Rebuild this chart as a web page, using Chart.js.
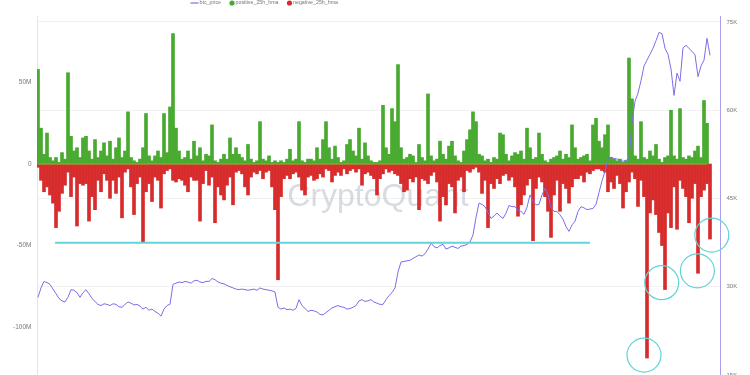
<!DOCTYPE html>
<html>
<head>
<meta charset="utf-8">
<title>btc_price vs 25h hma</title>
<script src="https://cdn.jsdelivr.net/npm/chart.js@4.4.1/dist/chart.umd.min.js"></script>
<style>
  html, body { margin: 0; padding: 0; background: #fff; overflow: hidden; }
  #chart { display: block; }
</style>
</head>
<body>
<canvas id="chart" width="750" height="375"></canvas>
<script>
// one value per step
// positive / negative 25h hma in millions, btc price in thousands
const positive = [
  58, 22, 6, 19, 4, 2, 4, 1, 7, 3, 56, 17, 8, 10, 4, 16, 17, 8, 3, 15,
  4, 8, 13, 5, 14, 3, 10, 16, 4, 8, 32, 4, 2, 1, 3, 10, 31, 5, 2, 5,
  8, 4, 31, 7, 35, 80, 22, 8, 3, 4, 8, 3, 14, 5, 10, 2, 6, 5, 24, 2,
  1, 3, 6, 3, 16, 6, 10, 6, 4, 2, 12, 3, 1, 2, 26, 3, 2, 5, 1, 2,
  1, 2, 1, 3, 9, 2, 3, 26, 2, 1, 3, 3, 2, 10, 3, 15, 26, 10, 3, 11,
  4, 1, 2, 12, 15, 8, 5, 22, 3, 13, 5, 2, 1, 1, 2, 36, 10, 6, 34, 26,
  61, 10, 3, 4, 6, 5, 1, 12, 4, 2, 43, 5, 2, 3, 14, 6, 3, 11, 14, 5,
  2, 1, 8, 15, 21, 32, 26, 6, 5, 2, 3, 1, 4, 3, 19, 18, 6, 2, 5, 7,
  6, 8, 3, 22, 10, 3, 4, 19, 6, 2, 1, 3, 4, 5, 8, 3, 6, 4, 24, 10,
  3, 4, 5, 6, 2, 24, 28, 14, 10, 18, 24, 4, 3, 2, 3, 1, 2, 65, 40, 5,
  3, 26, 4, 3, 8, 5, 12, 3, 1, 4, 5, 33, 5, 3, 34, 4, 3, 5, 4, 8,
  11, 4, 39, 25
];
const negative = [
  -2, -10, -17, -14, -19, -24, -39, -29, -18, -13, -5, -20, -8, -38, -12, -13, -12, -35, -20, -28,
  -10, -17, -6, -10, -21, -10, -18, -8, -33, -5, -3, -14, -31, -12, -8, -48, -17, -12, -23, -8,
  -10, -27, -6, -4, -3, -10, -11, -9, -10, -13, -17, -8, -10, -10, -35, -12, -4, -13, -8, -36,
  -14, -19, -22, -13, -8, -25, -5, -4, -6, -14, -19, -8, -5, -6, -4, -9, -5, -4, -14, -28,
  -71, -20, -9, -7, -9, -6, -5, -8, -16, -19, -8, -7, -10, -9, -6, -8, -3, -4, -11, -7,
  -5, -7, -3, -6, -4, -3, -5, -3, -13, -6, -5, -7, -9, -19, -9, -6, -3, -5, -4, -6,
  -7, -12, -17, -16, -9, -11, -8, -28, -9, -10, -12, -7, -5, -11, -35, -20, -25, -12, -14, -30,
  -10, -8, -17, -4, -5, -3, -2, -5, -18, -10, -39, -12, -15, -9, -12, -7, -6, -10, -8, -14,
  -32, -25, -19, -13, -9, -47, -15, -8, -11, -20, -29, -45, -19, -10, -29, -12, -15, -24, -14, -9,
  -9, -7, -11, -5, -6, -4, -3, -3, -4, -5, -17, -11, -15, -7, -12, -27, -17, -11, -5, -9,
  -26, -10, -20, -119, -30, -22, -31, -42, -50, -77, -30, -39, -14, -40, -10, -15, -20, -36, -21, -12,
  -67, -20, -16, -12, -46
];
const btcPrice = [
  28.2, 29.8, 30.9, 30.7, 30.4, 29.6, 28.8, 28.0, 27.6, 27.4, 28.2, 29.5, 29.4, 29.0, 28.2, 29.0, 29.5, 28.8, 28.0, 27.5,
  27.0, 26.8, 27.1, 27.0, 26.8, 27.1, 27.0, 26.6, 26.5, 27.0, 27.4, 27.2, 26.9, 27.0, 26.7, 26.2, 26.5, 26.0, 26.2, 25.8,
  25.5, 25.0, 26.2, 26.8, 27.0, 30.4, 30.6, 30.8, 30.7, 30.9, 30.8, 30.6, 31.0, 31.1, 30.8, 30.7, 30.9, 30.9, 31.4, 31.2,
  30.8, 30.6, 30.5, 30.2, 30.0, 29.8, 29.6, 29.5, 29.6, 29.5, 29.4, 29.5, 29.6, 29.4, 29.8, 29.6, 29.5, 29.4, 29.3, 29.1,
  26.5, 26.2, 26.4, 26.1, 26.2, 26.0, 26.3, 27.8, 26.8, 26.3, 25.8, 26.0, 25.9, 25.7, 25.3, 25.2, 25.6, 26.0, 26.4, 26.6,
  26.8, 26.6, 26.5, 26.2, 26.3, 26.5, 26.8, 27.6, 27.8, 27.5, 27.6, 27.8, 27.4, 27.2, 27.0, 27.0, 27.8, 28.5, 29.0, 29.8,
  32.5, 34.2, 34.3, 34.4, 34.5, 34.8, 35.1, 35.4, 35.2, 35.6, 36.4, 37.4, 36.8, 36.6, 37.0, 37.2, 36.4, 36.6, 36.9, 36.7,
  36.5, 36.9, 37.0, 37.2, 37.6, 38.8, 41.8, 44.2, 44.0, 43.6, 42.6, 41.6, 42.0, 42.5, 42.0, 41.6, 42.5, 43.8, 43.6, 43.6,
  43.0, 42.8, 42.3, 43.5, 45.6, 44.5, 43.9, 44.0, 45.6, 46.7, 45.6, 43.5, 42.8, 42.8, 42.2, 41.5, 40.2, 39.4, 40.5, 41.1,
  42.8, 43.6, 43.4, 43.1, 43.2, 43.3, 44.0, 46.0, 48.0, 49.6, 51.8, 52.0, 51.8, 51.7, 51.5, 51.3, 51.5, 51.6, 58.0, 61.5,
  62.9, 65.0, 67.5, 68.5, 69.5, 70.5, 71.8, 73.2, 73.0, 70.5, 69.5, 67.0, 62.5, 66.3, 64.9, 70.6, 71.0, 70.5, 70.0, 69.4,
  65.7, 67.5, 68.5, 72.2, 69.3
];

const leftTicks = [50, 0, -50, -100];     // M
const rightTicks = [75, 60, 45, 30, 15];  // K

// marks drawn by hand on the original screenshot
const levelFrom = 5.7;
const levelTo = 184;
const levelValue = -48.3;
const circleX = [202, 207.9, 219.8, 224.6];
const circleY = [-117.2, -72.8, -65.5, -43.6];

const GREEN = '#48aa2f';
const RED = '#d82c2c';
const PURPLE = '#7b6ee8';
const CYAN = '#62d3d9';
const FONT = "'Liberation Sans', Arial, sans-serif";

Chart.defaults.font.family = FONT;

const toPoints = arr => arr.map((v, i) => ({ x: i, y: v }));

// watermark behind the bars
const watermark = {
  id: 'watermark',
  beforeDatasetsDraw(chart) {
    const ctx = chart.ctx;
    ctx.save();
    ctx.font = '32px ' + FONT;
    ctx.fillStyle = 'rgba(175, 183, 198, 0.5)';
    ctx.textAlign = 'center';
    ctx.textBaseline = 'middle';
    ctx.fillText('CryptoQuant', 378, 197);
    ctx.restore();
  }
};

// small legend at the very top, partly cut like the screenshot
const topLegend = {
  id: 'topLegend',
  afterDraw(chart) {
    const ctx = chart.ctx;
    const items = chart.data.datasets.filter(d => d.legend);
    ctx.save();
    ctx.font = '5.3px ' + FONT;
    ctx.textBaseline = 'middle';
    let x = 190.5;
    const y = 3;
    items.forEach(d => {
      if (d.type === 'line') {
        ctx.strokeStyle = d.borderColor;
        ctx.lineWidth = 1.2;
        ctx.beginPath();
        ctx.moveTo(x, y);
        ctx.lineTo(x + 8, y);
        ctx.stroke();
        x += 9;
      } else {
        ctx.fillStyle = d.backgroundColor;
        ctx.beginPath();
        ctx.arc(x + 2.5, y, 2.6, 0, Math.PI * 2);
        ctx.fill();
        x += 6;
      }
      ctx.fillStyle = '#777';
      ctx.fillText(d.label, x, y);
      x += ctx.measureText(d.label).width + 8.5;
    });
    ctx.restore();
  }
};

new Chart(document.getElementById('chart'), {
  type: 'bar',
  data: {
    datasets: [
      {
        type: 'line', label: 'btc_price', legend: true,
        data: toPoints(btcPrice), yAxisID: 'y1',
        borderColor: PURPLE, borderWidth: 1, pointRadius: 0, tension: 0, order: 1
      },
      {
        label: 'positive_25h_hma', legend: true,
        data: toPoints(positive), yAxisID: 'y',
        backgroundColor: GREEN, borderWidth: 0, grouped: false,
        barPercentage: 1, categoryPercentage: 1, order: 3
      },
      {
        label: 'negative_25h_hma', legend: true,
        data: toPoints(negative), yAxisID: 'y',
        backgroundColor: RED, borderWidth: 0, grouped: false,
        barPercentage: 1, categoryPercentage: 1, order: 3
      },
      {
        // thin seam where the two bar series meet
        type: 'line', label: 'zero',
        data: [{ x: 0, y: 0 }, { x: positive.length - 1, y: 0 }], yAxisID: 'y',
        borderColor: 'rgba(214, 165, 70, 0.85)', borderWidth: 0.8, pointRadius: 0, order: 2
      },
      {
        type: 'line', label: 'level',
        data: [{ x: levelFrom, y: levelValue }, { x: levelTo, y: levelValue }], yAxisID: 'y',
        borderColor: CYAN, borderWidth: 2, pointRadius: 0, order: 0
      },
      {
        type: 'line', label: 'circles',
        data: circleX.map((x, i) => ({ x: x, y: circleY[i] })), yAxisID: 'y',
        showLine: false, pointRadius: 17, pointBorderWidth: 1.2,
        pointBorderColor: CYAN, pointBackgroundColor: 'rgba(0,0,0,0)', clip: false, order: 0
      }
    ]
  },
  options: {
    responsive: false,
    animation: false,
    layout: { autoPadding: false, padding: { top: 16, left: 0, right: 0, bottom: 0 } },
    plugins: { legend: { display: false }, tooltip: { enabled: false } },
    scales: {
      x: {
        type: 'linear', min: -0.333, max: 227.333, offset: false, display: false
      },
      y: {
        position: 'left', min: -129.4, max: 90.8,
        afterBuildTicks: s => { s.ticks = leftTicks.map(v => ({ value: v })); },
        afterFit: s => { s.width = 37; s.paddingTop = 0; s.paddingBottom = 0; },
        ticks: {
          callback: v => (v === 0 ? '0' : v + 'M'),
          font: { size: 6.5 }, color: '#777', padding: 5.5
        },
        grid: { display: false, drawTicks: false },
        border: { display: true, color: '#e4e4e4', width: 1 }
      },
      y1: {
        position: 'right', min: 15, max: 76,
        afterBuildTicks: s => { s.ticks = rightTicks.map(v => ({ value: v })); },
        afterFit: s => { s.width = 30; s.paddingTop = 0; s.paddingBottom = 0; },
        ticks: {
          callback: v => v + 'K',
          font: { size: 6 }, color: '#777', padding: 6.5
        },
        grid: { color: '#f1f1f1', drawTicks: false },
        border: { display: true, color: '#a99ff0', width: 1 }
      }
    }
  },
  plugins: [watermark, topLegend]
});
</script>
</body>
</html>
